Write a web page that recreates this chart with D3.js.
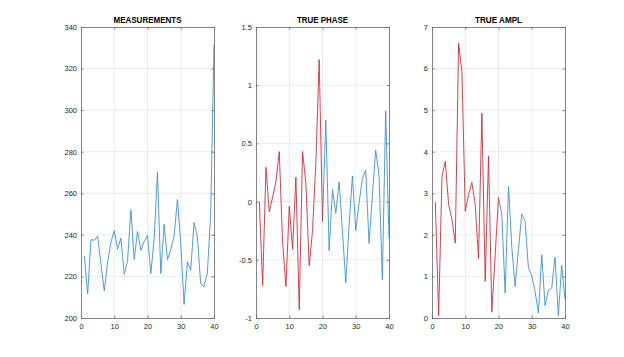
<!DOCTYPE html>
<html>
<head>
<meta charset="utf-8">
<title>subplots</title>
<style>
  body { margin: 0; background: #fff; }
  svg { display: block; }
  .tick text { font-family: "Liberation Sans", Arial, sans-serif; font-size: 7.5px; fill: #262626; }
  .ttl { font-family: "Liberation Sans", Arial, sans-serif; font-weight: bold; font-size: 8.6px; fill: #000; }
</style>
</head>
<body>
<script src="https://cdn.jsdelivr.net/npm/d3@7"></script>
<script>
// values, index 1..40
var measurements = [230, 211.5, 237.7, 237.4, 239.4, 226, 213, 227, 236.5, 242,
  233, 238.4, 221, 227.5, 252, 228.2, 241.6, 232.6, 236.8, 239.7,
  221.4, 238, 270.2, 221.4, 245, 228, 233, 239.4, 257, 236,
  206.5, 227, 223, 246, 239, 216.5, 215, 221.6, 250, 331.5];

var phaseRed = [0, -0.72, 0.295, -0.09, 0.04, 0.17, 0.43, -0.35, -0.73, -0.04,
  -0.41, 0.21, -0.93, 0.43, 0.16, -0.55, -0.25, 0.33, 1.22, -0.17];
var phaseBlue = [-0.17, 0.70, -0.42, 0.105, -0.10, 0.17, -0.25, -0.70, -0.2, 0.22,
  -0.25, -0.01, 0.2, 0.27, -0.36, 0.05, 0.44, 0.23, -0.67, 0.78, -0.32];

var amplRed = [2.79, 0.06, 3.41, 3.77, 2.73, 2.37, 1.80, 6.61, 5.93, 2.57,
  2.97, 3.26, 2.73, 1.43, 4.93, 0.88, 3.89, 0.14, 1.52, 2.90];
var amplBlue = [2.90, 2.49, 0.6, 3.17, 1.7, 0.76, 1.65, 2.5, 2.33, 1.2,
  1.02, 0.64, 0.12, 1.52, 0.3, 0.67, 0.72, 1.46, 0.06, 1.27, 0.45];

var xTicks = [0, 10, 20, 30, 40];
var measTicks = [200, 220, 240, 260, 280, 300, 320, 340];
var phaseTicks = [-1, -0.5, 0, 0.5, 1, 1.5];
var amplTicks = [0, 1, 2, 3, 4, 5, 6, 7];

var blue = "#3b92d4", red = "#d42a3a";

function pts(vals, start) {
  return vals.map(function(v, i) { return {x: start + i, y: v}; });
}

var panels = [
  {title: "MEASUREMENTS", tl: 68, left: 81, dom: [200, 340], ticks: measTicks,
   series: [{d: pts(measurements, 1), c: blue}]},
  {title: "TRUE PHASE", tl: 51, left: 256, dom: [-1, 1.5], ticks: phaseTicks,
   series: [{d: pts(phaseBlue, 20), c: blue}, {d: pts(phaseRed, 1), c: red}]},
  {title: "TRUE AMPL", tl: 47, left: 432, dom: [0, 7], ticks: amplTicks,
   series: [{d: pts(amplBlue, 20), c: blue}, {d: pts(amplRed, 1), c: red}]}
];

var W = 624, H = 357, plotTop = 27, ph = 291, pw = 133;
var svg = d3.select("body").append("svg").attr("width", W).attr("height", H);

panels.forEach(function(p) {
  var g = svg.append("g").attr("transform", "translate(" + p.left + "," + plotTop + ")");
  var x = d3.scaleLinear().domain([0, 40]).range([0, pw]);
  var y = d3.scaleLinear().domain(p.dom).range([ph, 0]);

  // grid
  g.append("g").selectAll("line").data(xTicks.slice(1, -1)).enter().append("line")
    .attr("x1", function(d) { return x(d); }).attr("x2", function(d) { return x(d); })
    .attr("y1", 0).attr("y2", ph).attr("stroke", "#e6e6e6").attr("stroke-width", 0.8);
  g.append("g").selectAll("line").data(p.ticks.slice(1, -1)).enter().append("line")
    .attr("y1", function(d) { return y(d); }).attr("y2", function(d) { return y(d); })
    .attr("x1", 0).attr("x2", pw).attr("stroke", "#e6e6e6").attr("stroke-width", 0.8);

  var line = d3.line().x(function(d) { return x(d.x); }).y(function(d) { return y(d.y); });
  p.series.forEach(function(s) {
    g.append("path").datum(s.d).attr("d", line)
      .attr("fill", "none").attr("stroke", s.c).attr("stroke-width", 0.9)
      .attr("stroke-linejoin", "round");
  });

  // axes, ticks inside
  var fmt = function(d) { return String(d); };
  var ax = [
    {a: d3.axisBottom(x).tickValues(xTicks).tickFormat(fmt).tickSizeInner(-2.5).tickSizeOuter(0), t: "translate(0," + ph + ")"},
    {a: d3.axisTop(x).tickValues(xTicks).tickFormat("").tickSizeInner(-2.5).tickSizeOuter(0), t: "translate(0,0)"},
    {a: d3.axisLeft(y).tickValues(p.ticks).tickFormat(fmt).tickSizeInner(-2.5).tickSizeOuter(0), t: "translate(0,0)"},
    {a: d3.axisRight(y).tickValues(p.ticks).tickFormat("").tickSizeInner(-2.5).tickSizeOuter(0), t: "translate(" + pw + ",0)"}
  ];
  ax.forEach(function(o, i) {
    var ag = g.append("g").attr("transform", o.t).call(o.a);
    ag.select(".domain").attr("stroke", "#666").attr("stroke-width", 0.8);
    ag.selectAll(".tick line").attr("stroke", "#666").attr("stroke-width", 0.8);
    if (i === 0) ag.selectAll(".tick text").attr("y", 6);
    if (i === 2) ag.selectAll(".tick text").attr("x", -4);
  });

  g.append("text").attr("class", "ttl").attr("x", pw / 2).attr("y", -4)
    .attr("text-anchor", "middle").attr("textLength", p.tl)
    .attr("lengthAdjust", "spacingAndGlyphs").text(p.title);
});
</script>
</body>
</html>
